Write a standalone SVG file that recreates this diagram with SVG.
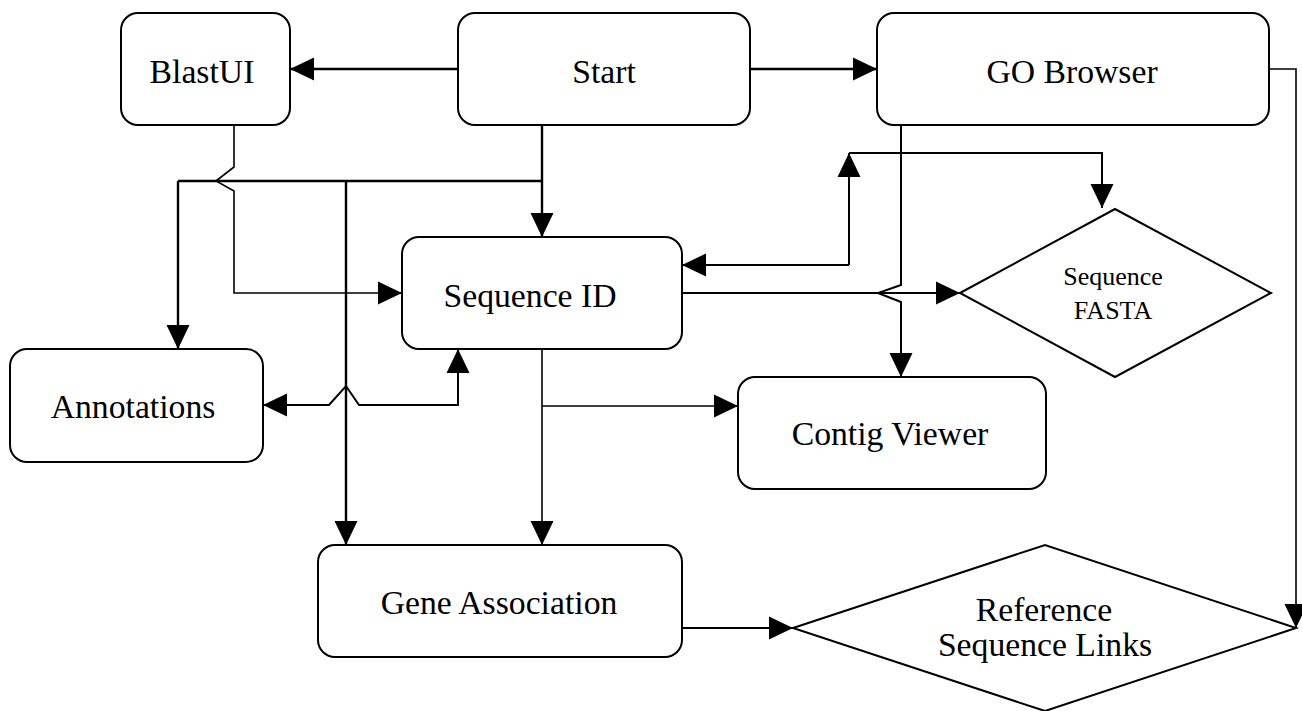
<svg xmlns="http://www.w3.org/2000/svg" width="1302" height="711" viewBox="0 0 1302 711">
<style>
.box{fill:#fff;stroke:#000;stroke-width:2}
.t{font-family:"Liberation Serif","Times New Roman",serif;font-size:33.7px;fill:#000;text-anchor:middle}
.ts{font-family:"Liberation Serif","Times New Roman",serif;font-size:26px;fill:#000;text-anchor:middle}
.c{fill:none;stroke:#000;stroke-width:2}
.ca{fill:none;stroke:#000;stroke-width:2;marker-end:url(#ah)}
.thin{stroke-width:1.6}
.thick{stroke-width:2.4}
</style>
<defs>
<marker id="ah" markerUnits="userSpaceOnUse" markerWidth="24" markerHeight="24" refX="24" refY="11.5" orient="auto" viewBox="0 0 24 23">
<path d="M0,0 L24,11.5 L0,23 z" fill="#000"/>
</marker>
<marker id="ahs" markerUnits="userSpaceOnUse" markerWidth="24" markerHeight="24" refX="24" refY="11.5" orient="auto-start-reverse" viewBox="0 0 24 23">
<path d="M0,0 L24,11.5 L0,23 z" fill="#000"/>
</marker>
</defs>
<rect width="1302" height="711" fill="#fff"/>
<g id="connectors">
<path class="ca thick" d="M458,69 L290,69"/>
<path class="ca thick" d="M750,69 L877,69"/>
<path class="ca thick" d="M542,125 L542,237"/>
<path class="c thick" d="M178,181 L542,181"/>
<path class="ca thick" d="M178,181 L178,349"/>
<path class="ca thick" d="M346,181 L346,545"/>
<path class="ca thin" d="M234,125 L234,167 L216,181 L234,191 L234,293 L402,293"/>
<path class="ca" style="marker-start:url(#ahs)" d="M458,349 L458,405 L359,405 L346,386 L329,405 L263,405"/>
<path class="ca thin" d="M542,349 L542,545"/>
<path class="ca thin" d="M542,406 L738,406"/>
<path class="ca" d="M682,293 L960,293"/>
<path class="ca" d="M849,265 L682,265"/>
<path class="ca" d="M849,265 L849,153"/>
<path class="ca" d="M849,153 L1102,153 L1102,208"/>
<path class="ca" d="M901,125 L901,285 L878,293 L901,302 L901,377"/>
<path class="ca thin" d="M1269,69 L1296,69 L1296,628"/>
<path class="ca" d="M682,628 L793,628"/>
</g>
<g id="blastui"><rect class="box" x="121" y="13" width="169" height="112" rx="17"/><text class="t" x="202" y="83">BlastUI</text></g>
<g id="start"><rect class="box" x="458" y="13" width="292" height="112" rx="17"/><text class="t" x="604" y="83">Start</text></g>
<g id="gobrowser"><rect class="box" x="877" y="13" width="392" height="112" rx="17"/><text class="t" x="1072" y="83">GO Browser</text></g>
<g id="sequenceid"><rect class="box" x="402" y="237" width="280" height="112" rx="17"/><text class="t" x="530" y="307">Sequence ID</text></g>
<g id="fasta"><polygon class="box" points="960,293 1115,209 1271,293 1115,377"/><text class="ts" x="1113" y="285">Sequence</text><text class="ts" x="1113" y="319">FASTA</text></g>
<g id="annotations"><rect class="box" x="10" y="349" width="253" height="113" rx="17"/><text class="t" x="133" y="418">Annotations</text></g>
<g id="contig"><rect class="box" x="738" y="377" width="308" height="112" rx="17"/><text class="t" x="890" y="445">Contig Viewer</text></g>
<g id="geneassoc"><rect class="box" x="318" y="545" width="364" height="112" rx="17"/><text class="t" x="499" y="614">Gene Association</text></g>
<g id="reference"><polygon class="box" points="793,628 1045,545 1296,628 1045,711"/><text class="t" x="1044" y="621">Reference</text><text class="t" x="1045" y="656">Sequence Links</text></g>
</svg>
